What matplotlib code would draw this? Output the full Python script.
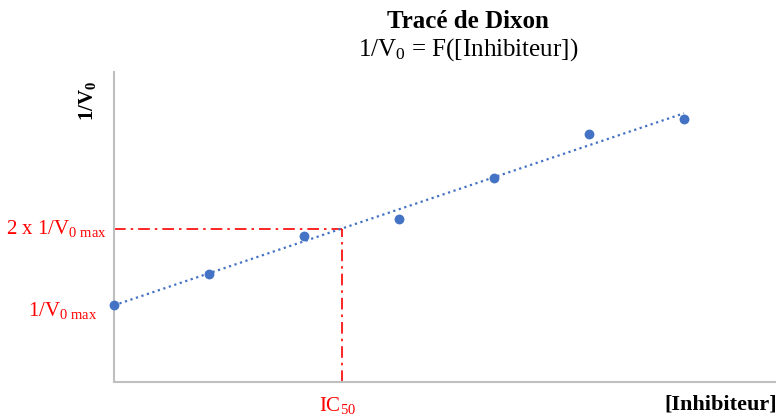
import numpy as np
import matplotlib
matplotlib.use("Agg")
import matplotlib.pyplot as plt

plt.rcParams['font.family'] = ['Liberation Serif', 'DejaVu Serif']
plt.rcParams['mathtext.fontset'] = 'custom'
plt.rcParams['mathtext.rm'] = 'Liberation Serif'
plt.rcParams['mathtext.it'] = 'Liberation Serif'
plt.rcParams['mathtext.bf'] = 'Liberation Serif:bold'

# Data (arbitrary units)
inhibiteur = [0, 1, 2, 3, 4, 5, 6]
inv_v0 = [0.77, 1.08, 1.46, 1.63, 2.04, 2.48, 2.63]

blue = '#4472C4'
red = '#FF0000'
grey = '#BFBFBF'

fig = plt.figure(figsize=(7.81, 4.16), dpi=100)
ax = fig.add_axes([114/781, 34/416, (775-114)/781, (382-72)/416])

x = np.array(inhibiteur, dtype=float)
y = np.array(inv_v0)
slope, intercept = np.polyfit(x, y, 1)
xs = np.array([x.min(), x.max()])
ax.plot(xs, slope*xs + intercept, linestyle=(0, (1, 1.6)), color=blue, lw=1.6, zorder=2)
ax.scatter(x, y, s=50, color=blue, zorder=3, linewidths=0, clip_on=False)

y_half = 2*intercept
ic50 = (y_half - intercept)/slope
dashdot = (0, (7, 3, 1.5, 3))
ax.plot([0, ic50], [y_half, y_half], color=red, lw=1.2, linestyle=dashdot, zorder=1)
ax.plot([ic50, ic50], [0, y_half], color=red, lw=1.2, linestyle=dashdot, zorder=1)

ax.set_xlim(0, (775-114)/95)
ax.set_ylim(0, 3.10)
for s in ['top', 'right']:
    ax.spines[s].set_visible(False)
for s in ['left', 'bottom']:
    ax.spines[s].set_color(grey)
    ax.spines[s].set_linewidth(1.5)
ax.set_xticks([])
ax.set_yticks([])

# Annotations
ax.annotate(r'2 x 1/V$_{\mathregular{0\ max}}$', xy=(0, y_half), xytext=(-5, 0),
            textcoords='offset points', ha='right', va='center', color=red, fontsize=15)
ax.annotate(r'1/V$_{\mathregular{0\ max}}$', xy=(0, intercept), xytext=(-12, -4),
            textcoords='offset points', ha='right', va='center', color=red, fontsize=15)
ax.annotate(r'IC$_{\mathregular{50}}$', xy=(ic50, 0), xytext=(-3, -17),
            textcoords='offset points', ha='center', va='center', color=red, fontsize=15)

fig.text(1 - 4/781, 1 - 405/416, '[Inhibiteur]', ha='right', va='center',
         fontsize=16, fontweight='bold')
fig.text(88/781, 1 - 101/416, r'1/V$_{\mathbf{0}}$', ha='center', va='center',
         rotation=90, fontsize=15, fontweight='bold')
fig.text(468/781, 1 - 22/416, 'Tracé de Dixon', ha='center', va='center',
         fontsize=18, fontweight='bold')
fig.text(468/781, 1 - 50/416, r'1/V$_{\mathregular{0}}$ = F([Inhibiteur])', ha='center', va='center',
         fontsize=18)

fig.savefig('out.png', dpi=100)
